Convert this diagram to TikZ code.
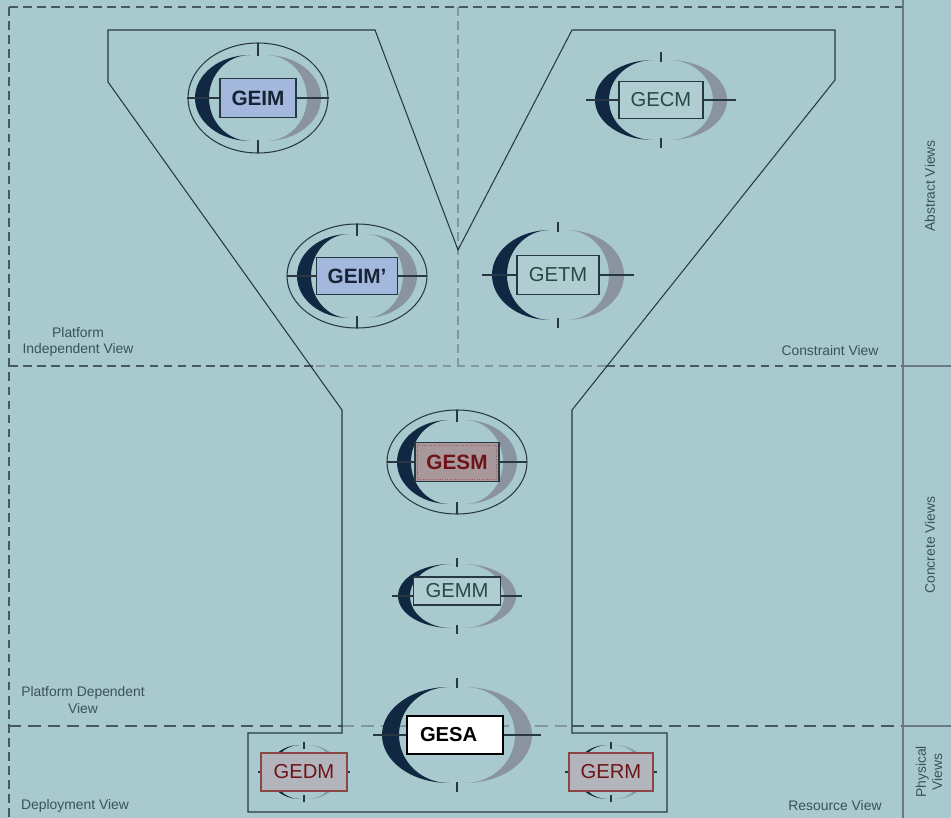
\documentclass[tikz,border=0pt]{standalone}
\usepackage{fontspec}
\setmainfont{Liberation Sans}

\definecolor{viewbg}{RGB}{168,201,206}
\definecolor{yedge}{RGB}{40,56,66}
\definecolor{sepgray}{RGB}{72,88,96}
\definecolor{seplight}{RGB}{130,150,158}
\definecolor{moondark}{RGB}{16,40,66}
\definecolor{moongray}{RGB}{138,148,160}
\definecolor{labeltext}{RGB}{58,82,88}
\definecolor{pimblue}{RGB}{164,184,222}
\definecolor{pimtext}{RGB}{22,36,52}
\definecolor{cimfill}{RGB}{176,206,210}
\definecolor{cimtext}{RGB}{40,72,72}
\definecolor{psmfill}{RGB}{168,152,156}
\definecolor{psmtext}{RGB}{110,20,25}
\definecolor{phyfill}{RGB}{178,182,188}
\definecolor{phyedge}{RGB}{140,70,70}

% centre x, centre y, radius x, radius y, thickness, offset, half cross, tick from, tick to
\newcommand\modelmark[9]{%
  \fill[moondark] (#1-#6,#2-#4) arc[start angle=270, end angle=90, x radius=#3, y radius=#4]
    arc[start angle=90, end angle=270, x radius=#3-#5, y radius=#4] -- cycle;
  \fill[moongray] (#1+#6,#2-#4) arc[start angle=270, end angle=450, x radius=#3, y radius=#4]
    arc[start angle=90, end angle=-90, x radius=#3-#5, y radius=#4] -- cycle;
  \draw[crossline] (#1-#7,#2) -- (#1+#7,#2);
  \draw[crossline] (#1,#2-#9) -- (#1,#2-#8) (#1,#2+#8) -- (#1,#2+#9);
}

\begin{document}
\begin{tikzpicture}[x=0.02cm, y=-0.02cm,
    yline/.style={draw=yedge, line width=0.6pt},
    viewsep/.style={draw=sepgray, line width=0.8pt, dash pattern=on 5pt off 3pt},
    viewsepin/.style={draw=seplight, line width=0.8pt, dash pattern=on 5pt off 3pt},
    colsep/.style={draw=sepgray!80, line width=0.9pt},
    crossline/.style={draw=yedge, line width=0.7pt},
    ringline/.style={draw=yedge, line width=0.6pt},
    viewlabel/.style={text=labeltext, font=\fontsize{7.9}{9.2}\selectfont, align=center, inner sep=0pt},
    modelbox/.style={draw=yedge, line width=0.6pt, minimum width=1.6cm, minimum height=0.76cm,
                     inner sep=0pt, font=\fontsize{11.5}{12}\selectfont},
    pimbox/.style={modelbox, fill=pimblue, text=pimtext, font=\fontsize{11.8}{12}\selectfont\bfseries},
    cimbox/.style={modelbox, fill=cimfill, text=cimtext},
    phybox/.style={modelbox, draw=phyedge, fill=phyfill, text=psmtext, minimum width=1.72cm}]

  \useasboundingbox (0,0) rectangle (951,818);
  \fill[viewbg] (0,0) rectangle (951,818);

  % view separators
  \draw[viewsep] (9,7) -- (903,7);
  \draw[viewsep] (9,7) -- (9,818);
  \draw[viewsep] (9,366) -- (316,366) (606,366) -- (903,366);
  \draw[viewsepin] (316,366) -- (606,366);
  \draw[viewsep, dash pattern=on 7pt off 4pt] (9,726) -- (342,726) (572,726) -- (903,726);
  \draw[viewsepin, dash pattern=on 7pt off 4pt] (342,726) -- (572,726);
  \draw[viewsepin] (458,7) -- (458,366);
  \draw[colsep] (903,0) -- (903,818);
  \draw[colsep] (903,366) -- (951,366) (903,726) -- (951,726);

  % the Y
  \draw[yline] (108,30) -- (375,30) -- (458,250) -- (572,30) -- (835,30) -- (835,80)
    -- (572,410) -- (572,733) -- (667,733) -- (667,812) -- (248,812) -- (248,733)
    -- (342,733) -- (342,410) -- (108,82) -- cycle;

  % model marks
  \draw[ringline] (258,98) ellipse[x radius=70, y radius=55];
  \modelmark{258}{98}{55}{43}{14}{8}{71}{42}{55}
  \modelmark{661}{100}{58}{40}{14}{8}{75}{38}{48}
  \draw[ringline] (357,276) ellipse[x radius=70, y radius=52];
  \modelmark{357}{276}{52}{42}{14}{8}{70}{40}{52}
  \modelmark{558}{275}{58}{45}{15}{8}{76}{43}{53}
  \draw[ringline] (457,462) ellipse[x radius=70, y radius=52];
  \modelmark{457}{462}{52}{42}{14}{8}{70}{40}{52}
  \modelmark{457}{596}{53}{32}{12}{6}{65}{29}{38}
  \modelmark{457}{735}{67}{48}{17}{8}{84}{47}{57}
  \modelmark{304}{772}{32}{27}{5}{4}{46}{23}{30}
  \modelmark{611}{772}{32}{27}{5}{4}{46}{23}{30}

  % models
  \node[pimbox, minimum width=1.52cm, minimum height=0.78cm] (geim) at (258,98) {GEIM};
  \node[cimbox, minimum width=1.68cm, minimum height=0.74cm] (gecm) at (661,100) {GECM};
  \node[pimbox, minimum width=1.62cm, minimum height=0.74cm] (geimp) at (357,276) {GEIM’};
  \node[cimbox, minimum width=1.64cm, minimum height=0.78cm] (getm) at (558,275) {GETM};
  \node[modelbox, fill=psmfill, text=psmtext, minimum width=1.68cm, minimum height=0.78cm,
        font=\fontsize{11.8}{12}\selectfont\bfseries] (gesm) at (457,462) {GESM};
  \draw[psmtext!70, densely dotted, line width=0.4pt]
    ([shift={(3,3)}]gesm.north west) rectangle ([shift={(-3,-3)}]gesm.south east);
  \node[cimbox, minimum width=1.74cm, minimum height=0.56cm] (gemm) at (457,591) {GEMM};
  \node[modelbox, draw=black, line width=1.2pt, fill=white, text=black, text width=1.4cm,
        align=left, inner xsep=0.26cm, minimum height=0.76cm,
        font=\fontsize{11.5}{12}\selectfont\bfseries] (gesa) at (455,735) {GESA};
  \node[phybox] (gedm) at (304,772) {GEDM};
  \node[phybox, minimum width=1.68cm] (germ) at (611,772) {GERM};

  % view names
  \node[viewlabel] (pimview) at (78,342) {Platform\\Independent View};
  \node[viewlabel] (cimview) at (830,351) {Constraint View};
  \node[viewlabel] (psmview) at (83,700) {Platform Dependent\\View};
  \node[viewlabel] (depview) at (75,806) {Deployment View};
  \node[viewlabel] (resview) at (835,806) {Resource View};
  \node[viewlabel, rotate=90] (absviews) at (930,186) {Abstract Views};
  \node[viewlabel, rotate=90] (conviews) at (930,545) {Concrete Views};
  \node[viewlabel, rotate=90] (phyviews) at (929,772) {Physical\\Views};
\end{tikzpicture}
\end{document}
